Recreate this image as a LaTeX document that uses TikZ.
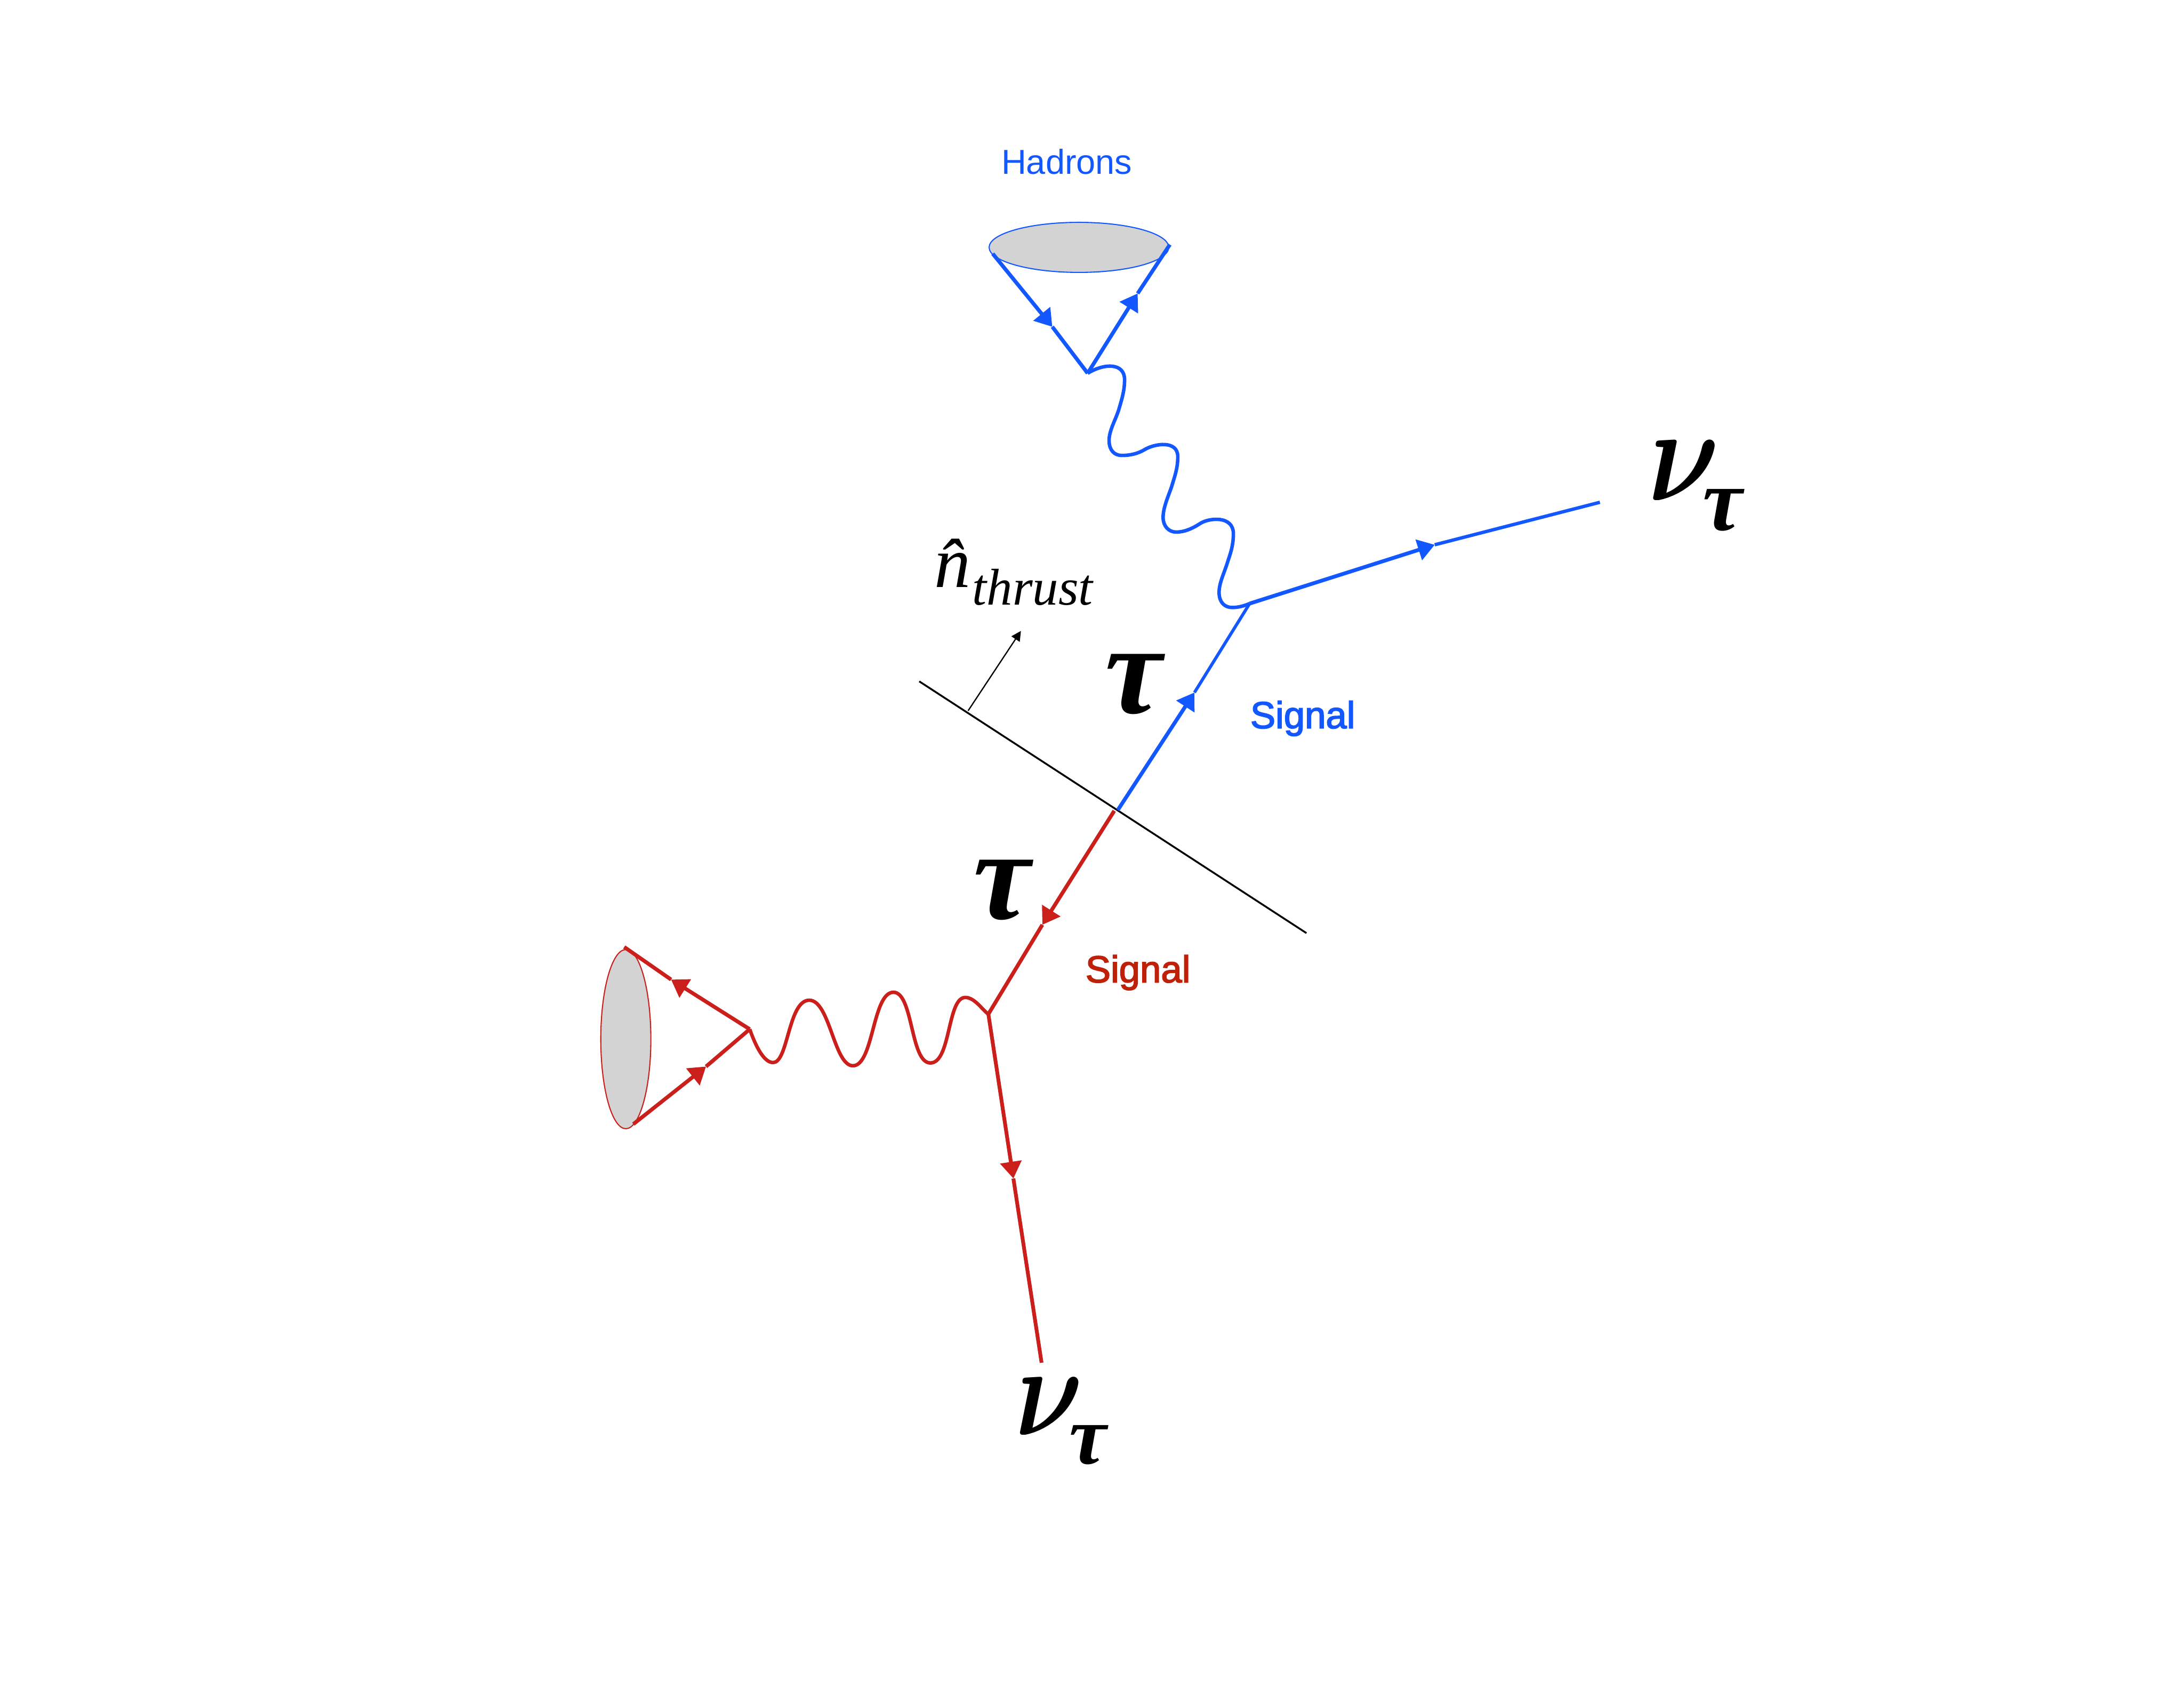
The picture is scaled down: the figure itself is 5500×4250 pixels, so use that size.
\documentclass[tikz,border=0pt]{standalone}
\usepackage{fontspec}
\usepackage{graphicx}
\setmainfont{Liberation Sans}
\newfontfamily\symf{Liberation Serif}
\newfontfamily\medf{Liberation Sans}[FakeBold=2.5]
\usetikzlibrary{arrows.meta,shapes.geometric}
\definecolor{bl}{HTML}{1358FF}
\definecolor{rd}{HTML}{CB1F1C}
\definecolor{rdt}{HTML}{BF2008}
\definecolor{gy}{HTML}{D3D3D3}
\newcommand{\gnu}[2]{\scalebox{#1}[#2]{\boldmath$\nu$}}
\tikzset{
 blueline/.style={draw=bl,line width=2.7pt,line join=round},
 redline/.style={draw=rd,line width=2.7pt,line join=round},
 headb/.style={blueline,-{Triangle[length=12pt,width=15pt,fill=bl]}},
 headr/.style={redline,-{Triangle[length=12pt,width=15pt,fill=rd]}},
 wavy/.style={line width=2.5pt},
 cone/.style={ellipse,fill=gy,inner sep=0pt,line width=0.8pt},
 big/.style={inner sep=0pt,anchor=base west,text=black},
 taub/.style={big,font=\symf\bfseries\itshape\fontsize{92}{92}\selectfont},
 taus/.style={big,font=\symf\bfseries\itshape\fontsize{64}{64}\selectfont},
 lab/.style={font=\medf\fontsize{27}{27}\selectfont,inner sep=0pt,anchor=base west},
}
\begin{document}
\begin{tikzpicture}[x=0.01cm,y=-0.01cm]
\useasboundingbox (0,0) rectangle (5500,4250);
\fill[white] (0,0) rectangle (5500,4250);
% vertices
\coordinate (hv) at (2739,940);
\coordinate (hl) at (2500,639);
\coordinate (hr) at (2946,616);
\coordinate (bv) at (3147,1520);
\coordinate (bn) at (4029,1265);
\coordinate (bna) at (3613,1372);
\coordinate (c) at (2815,2040);
\coordinate (cr) at (2806,2042);
\coordinate (rv) at (2489,2554);
\coordinate (rn) at (2623,3432);
\coordinate (pv) at (1888,2592);
\coordinate (pt) at (1572,2385);
\coordinate (pb) at (1595,2831);
\coordinate (tl) at (2315,1716);
\coordinate (tr) at (3290,2350);
\coordinate (ta) at (2438,1790);
\coordinate (tb) at (2571,1589);
% cones
\node[cone,draw=bl,minimum width=4.52cm,minimum height=1.26cm] (hcone) at (2717,623) {};
\node[cone,draw=rd,minimum width=1.26cm,minimum height=4.51cm] (rcone) at (1576,2617) {};
% thrust
\draw[line width=1.3pt] (tl) -- (tr);
\draw[line width=0.9pt,-{Triangle[length=7pt,width=7pt]}] (ta) -- (tb);
% blue lines
\coordinate (a1) at (2650,823);
\coordinate (a2) at (2865,739);
\coordinate (a3) at (3008,1744);
\draw[headb] (hl) -- (a1);
\draw[blueline] (a1) -- (hv);
\draw[headb] (hv) -- (a2);
\draw[blueline] (a2) -- (hr);
\draw[headb] (c) -- (a3);
\draw[blueline,line width=2.2pt] (a3) -- (bv);
\draw[headb] (bv) -- (bna);
\draw[blueline,line width=2.4pt] (bna) -- (bn);
\draw[blueline,wavy] (hv)
 .. controls (2784,913) and (2832,915) .. (2832,956)
 .. controls (2832,985) and (2825,1005) .. (2817,1033)
 .. controls (2808,1060) and (2793,1085) .. (2793,1109)
 .. controls (2793,1135) and (2807,1147) .. (2825,1147)
 .. controls (2845,1147) and (2865,1143) .. (2883,1132)
 .. controls (2908,1117) and (2966,1108) .. (2966,1150)
 .. controls (2966,1180) and (2958,1200) .. (2950,1227)
 .. controls (2940,1255) and (2929,1280) .. (2929,1303)
 .. controls (2929,1325) and (2943,1340) .. (2962,1340)
 .. controls (2983,1340) and (3003,1331) .. (3023,1318)
 .. controls (3045,1304) and (3106,1298) .. (3106,1344)
 .. controls (3106,1375) and (3098,1395) .. (3090,1420)
 .. controls (3080,1450) and (3070,1470) .. (3070,1492)
 .. controls (3070,1518) and (3085,1530) .. (3103,1530)
 .. controls (3118,1530) and (3133,1526) .. (bv);
% red lines
\coordinate (b1) at (1690,2467);
\coordinate (b2) at (1778,2686);
\coordinate (b3) at (2625,2329);
\coordinate (b4) at (2552,2968);
\draw[headr] (pv) -- (b1);
\draw[redline] (b1) -- (pt);
\draw[headr] (pb) -- (b2);
\draw[redline] (b2) -- (pv);
\draw[headr] (cr) -- (b3);
\draw[redline] (b3) -- (rv);
\draw[headr] (rv) -- (b4);
\draw[redline] (b4) -- (rn);
\draw[redline,wavy] (pv)
 .. controls (1905,2640) and (1925,2676) .. (1947,2676)
 .. controls (1985,2676) and (1985,2519) .. (2038,2519)
 .. controls (2090,2519) and (2100,2684) .. (2148,2684)
 .. controls (2200,2684) and (2197,2499) .. (2250,2499)
 .. controls (2300,2499) and (2292,2677) .. (2343,2677)
 .. controls (2395,2677) and (2385,2512) .. (2431,2512)
 .. controls (2455,2512) and (2475,2545) .. (rv);
% labels
\node[lab,text=bl,font=\fontsize{24.8}{25}\selectfont] (hadrons) at (2521,438) {Hadrons};
\node[lab,text=bl] (sigb) at (3148,1834) {Signal};
\node[lab,text=rdt] (sigr) at (2733,2474) {Signal};
\node[taub] (t1) at (2782,1796) {τ};
\node[taub] (t2) at (2450,2314) {τ};
\node[big] (n1) at (4151,1260) {\gnu{7.9}{9.6}};
\node[taus] (n1s) at (4288,1336) {τ};
\node[big] (n2) at (2557,3614) {\gnu{7.5}{9.2}};
\node[taus,font=\symf\bfseries\itshape\fontsize{60}{60}\selectfont] (n2s) at (2692,3686) {τ};
\node[inner sep=0pt,anchor=base west,font=\symf\itshape\fontsize{52}{52}\selectfont] (nh) at (2353,1479) {\^{n}};
\node[inner sep=0pt,anchor=base west,font=\symf\itshape\fontsize{37}{37}\selectfont] (thr) at (2448,1523) {thrust};
\end{tikzpicture}
\end{document}
